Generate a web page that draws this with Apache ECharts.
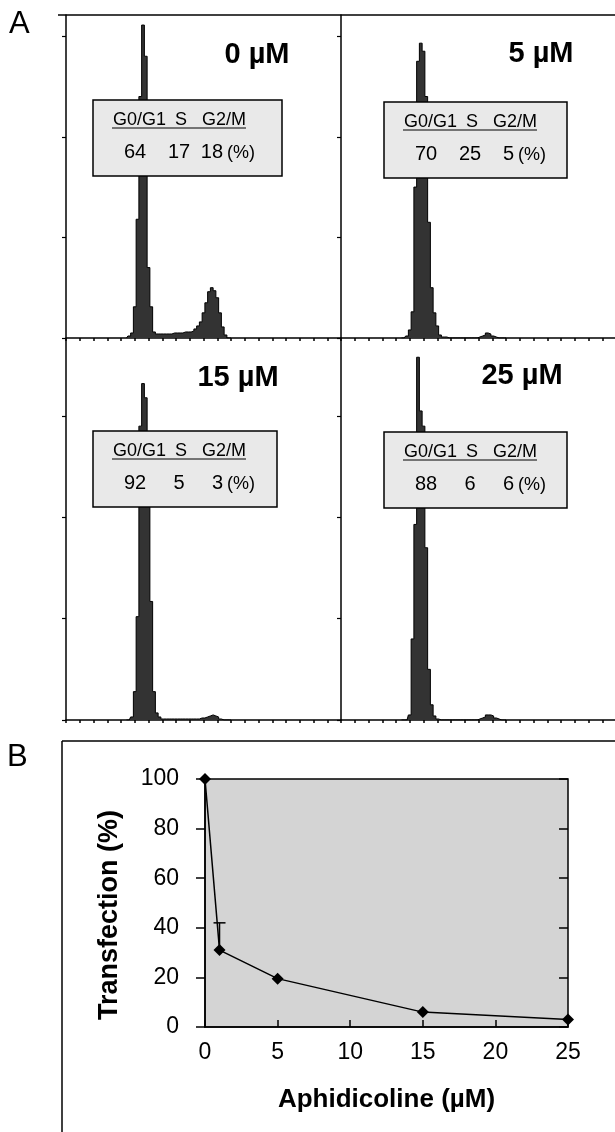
<!DOCTYPE html>
<html><head><meta charset="utf-8">
<script src="https://cdn.jsdelivr.net/npm/echarts@6/dist/echarts.min.js"></script>
<style>html,body{margin:0;padding:0;background:#fff}#c{width:615px;height:1132px}</style>
</head><body><div id="c"></div>
<script>
// ---- Panel A: DNA content histograms (channel, cell count) ----
const channels = [44,46,48,50,52,54,56,58,60,62,64,66,68,70,72,74,76,78,80,82,84,86,88,90,92,94,96,98,100,102,104,106,108,110,112,114,116,118,120];
const counts0uM  = [0,2,5,31,118,240,311,280,70,31,6,4,4,4,4,4,4,5,5,5,5,6,6,6,7,9,12,16,25,35,46,50,47,40,25,11,3,0,0];
const counts5uM  = [0,0,2,8,26,150,275,293,285,240,115,50,25,12,3,1,1,0,0,0,0,0,0,0,0,0,0,0,1,2,3,5,4,2,1,0,0,0,0];
const counts15uM = [0,0,3,28,102,290,332,318,260,117,28,7,3,1,1,1,1,1,1,1,1,1,1,1,1,1,1,2,2,3,4,5,4,3,1,0,0,0,0];
const counts25uM = [0,0,0,5,80,193,358,305,290,170,50,15,4,1,0,0,0,0,0,0,0,0,0,0,0,0,0,0,1,2,3,5,5,4,2,1,0,0,0];
const panelTitles = ['0 µM','5 µM','15 µM','25 µM'];
const phaseNames = ['G0/G1','S','G2/M'];
const phaseG1 = [64,70,92,88];
const phaseS  = [17,25,5,6];
const phaseG2 = [18,5,3,6];
const histYTicks = [0,100,200,300];

// ---- Panel B: transfection vs aphidicoline ----
const doses = [0,1,5,15,25];
const transfection = [100,31,19.5,6,3];
const errorUpper = [null,42,null,null,null];
const doseTicks = [0,5,10,15,20,25];

const FONT = '"Liberation Sans", Arial, sans-serif';
const allCounts = [counts0uM, counts5uM, counts15uM, counts25uM];

// layout (pixels)
const gridsA = [
  {left:66, top:15, width:275, height:323, ymax:321},
  {left:341, top:15, width:275, height:323, ymax:321},
  {left:66, top:339, width:275, height:381, ymax:376},
  {left:341, top:339, width:275, height:381, ymax:376}
];
const boxes = [
  {x:93, y:100, w:189}, {x:384, y:102, w:183}, {x:93, y:431, w:184}, {x:384, y:432, w:183}
];
const titlePos = [[257,55],[541,54],[238,378],[522,376]];

const grid = [], xAxis = [], yAxis = [], series = [], graphic = [];
gridsA.forEach((g, i) => {
  grid.push({left:g.left, top:g.top, width:g.width, height:g.height, outerBoundsMode:'none'});
  xAxis.push({type:'value', gridIndex:i, min:0, max:200, interval:10,
    axisLine:{show:true, onZero:false, lineStyle:{color:'#000', width:1.5}},
    axisTick:{show:true, length:3, lineStyle:{color:'#000', width:1.5}},
    axisLabel:{show:false}, splitLine:{show:false}});
  yAxis.push({type:'value', gridIndex:i, min:0, max:g.ymax,
    axisLine:{show:true, lineStyle:{color:'#000', width:1.5}},
    axisTick:{show:true, length:4, customValues:histYTicks, lineStyle:{color:'#000', width:1.2}},
    axisLabel:{show:false}, splitLine:{show:false}});
  series.push({type:'line', xAxisIndex:i, yAxisIndex:i, step:'middle', symbol:'none',
    data: channels.map((c, k) => [c, allCounts[i][k]]),
    lineStyle:{color:'#000', width:1}, areaStyle:{color:'#333333', opacity:1}, z:2, silent:true});
  // titles
  graphic.push({type:'text', x:titlePos[i][0], y:titlePos[i][1], z:100,
    style:{text:panelTitles[i], font:'bold 29px ' + FONT, fill:'#000', align:'center', verticalAlign:'middle'}});
  // phase box
  const b = boxes[i];
  const Z = 100;
  graphic.push({type:'group', x:b.x, y:b.y, z:Z, children:[
    {type:'rect', z:Z, shape:{x:0, y:0, width:b.w, height:76}, style:{fill:'#e9e9e9', stroke:'#000', lineWidth:1.5}},
    {type:'text', z:Z+1, x:20, y:20, style:{text:phaseNames[0], font:'18px ' + FONT, fill:'#000', align:'left', verticalAlign:'middle'}},
    {type:'text', z:Z+1, x:88, y:20, style:{text:phaseNames[1], font:'18px ' + FONT, fill:'#000', align:'center', verticalAlign:'middle'}},
    {type:'text', z:Z+1, x:153, y:20, style:{text:phaseNames[2], font:'18px ' + FONT, fill:'#000', align:'right', verticalAlign:'middle'}},
    {type:'line', z:Z+1, shape:{x1:19, y1:28, x2:153, y2:28}, style:{stroke:'#000', lineWidth:1}},
    {type:'text', z:Z+1, x:42, y:52, style:{text:String(phaseG1[i]), font:'20px ' + FONT, fill:'#000', align:'center', verticalAlign:'middle'}},
    {type:'text', z:Z+1, x:86, y:52, style:{text:String(phaseS[i]), font:'20px ' + FONT, fill:'#000', align:'center', verticalAlign:'middle'}},
    {type:'text', z:Z+1, x:130, y:52, style:{text:String(phaseG2[i]), font:'20px ' + FONT, fill:'#000', align:'right', verticalAlign:'middle'}},
    {type:'text', z:Z+1, x:134, y:53, style:{text:'(%)', font:'18px ' + FONT, fill:'#000', align:'left', verticalAlign:'middle'}}
  ]});
});

// Panel B grid
grid.push({left:205, top:779, width:363, height:248, show:true, backgroundColor:'#d4d4d4',
  borderColor:'#000', borderWidth:1.5, outerBoundsMode:'none'});
xAxis.push({type:'value', gridIndex:4, min:0, max:25, interval:5,
  name:'Aphidicoline (µM)', nameLocation:'middle', nameGap:60,
  nameTextStyle:{fontFamily:FONT, fontSize:26, fontWeight:'bold', color:'#000'},
  axisLine:{show:true, onZero:false, lineStyle:{color:'#000', width:1.5}},
  axisTick:{show:true, inside:true, length:7, lineStyle:{color:'#000', width:1.5}},
  axisLabel:{show:true, margin:14, fontFamily:FONT, fontSize:23, color:'#000',
    customValues: doseTicks},
  splitLine:{show:false}});
yAxis.push({type:'value', gridIndex:4, min:0, max:100, interval:20,
  name:'Transfection (%)', nameLocation:'middle', nameGap:82,
  nameTextStyle:{fontFamily:FONT, fontSize:27, fontWeight:'bold', color:'#000', padding:[0,24,0,0]},
  axisLine:{show:true, lineStyle:{color:'#000', width:1.5}},
  axisTick:{show:true, length:9, lineStyle:{color:'#000', width:1.5}},
  axisLabel:{show:true, margin:26, fontFamily:FONT, fontSize:23, color:'#000'},
  splitLine:{show:false}});
yAxis.push({type:'value', gridIndex:4, min:0, max:100, interval:20,
  axisLine:{show:false},
  axisTick:{show:true, inside:true, length:9, lineStyle:{color:'#000', width:1.5}},
  axisLabel:{show:false}, splitLine:{show:false}});

series.push({type:'custom', xAxisIndex:4, yAxisIndex:4, z:3,
  data: doses.map((d, i) => [d, transfection[i], errorUpper[i]]).filter(r => r[2] != null),
  renderItem: (params, api) => {
    const p0 = api.coord([api.value(0), api.value(1)]);
    const p1 = api.coord([api.value(0), api.value(2)]);
    return {type:'group', children:[
      {type:'line', shape:{x1:p0[0], y1:p0[1], x2:p1[0], y2:p1[1]}, style:{stroke:'#000', lineWidth:1.5}},
      {type:'line', shape:{x1:p1[0]-6, y1:p1[1], x2:p1[0]+6, y2:p1[1]}, style:{stroke:'#000', lineWidth:1.5}}
    ]};
  }});
series.push({type:'line', xAxisIndex:4, yAxisIndex:4, clip:false, z:4,
  data: doses.map((d, i) => [d, transfection[i]]),
  symbol:'diamond', symbolSize:12, itemStyle:{color:'#000'},
  lineStyle:{color:'#000', width:1.5}});

// frame lines and panel letters
graphic.push({type:'line', z:5, shape:{x1:58, y1:15, x2:615, y2:15}, style:{stroke:'#000', lineWidth:1.5}});
graphic.push({type:'line', z:5, shape:{x1:62, y1:741, x2:615, y2:741}, style:{stroke:'#000', lineWidth:1.5}});
graphic.push({type:'line', z:5, shape:{x1:62, y1:741, x2:62, y2:1132}, style:{stroke:'#000', lineWidth:1.5}});
graphic.push({type:'text', x:9, y:9, style:{text:'A', font:'31px ' + FONT, fill:'#000'}});
graphic.push({type:'text', x:7, y:742, style:{text:'B', font:'31px ' + FONT, fill:'#000'}});

const chart = echarts.init(document.getElementById('c'), null, {renderer:'canvas'});
chart.setOption({backgroundColor:'#fff', animation:false, grid, xAxis, yAxis, series, graphic});
</script></body></html>
